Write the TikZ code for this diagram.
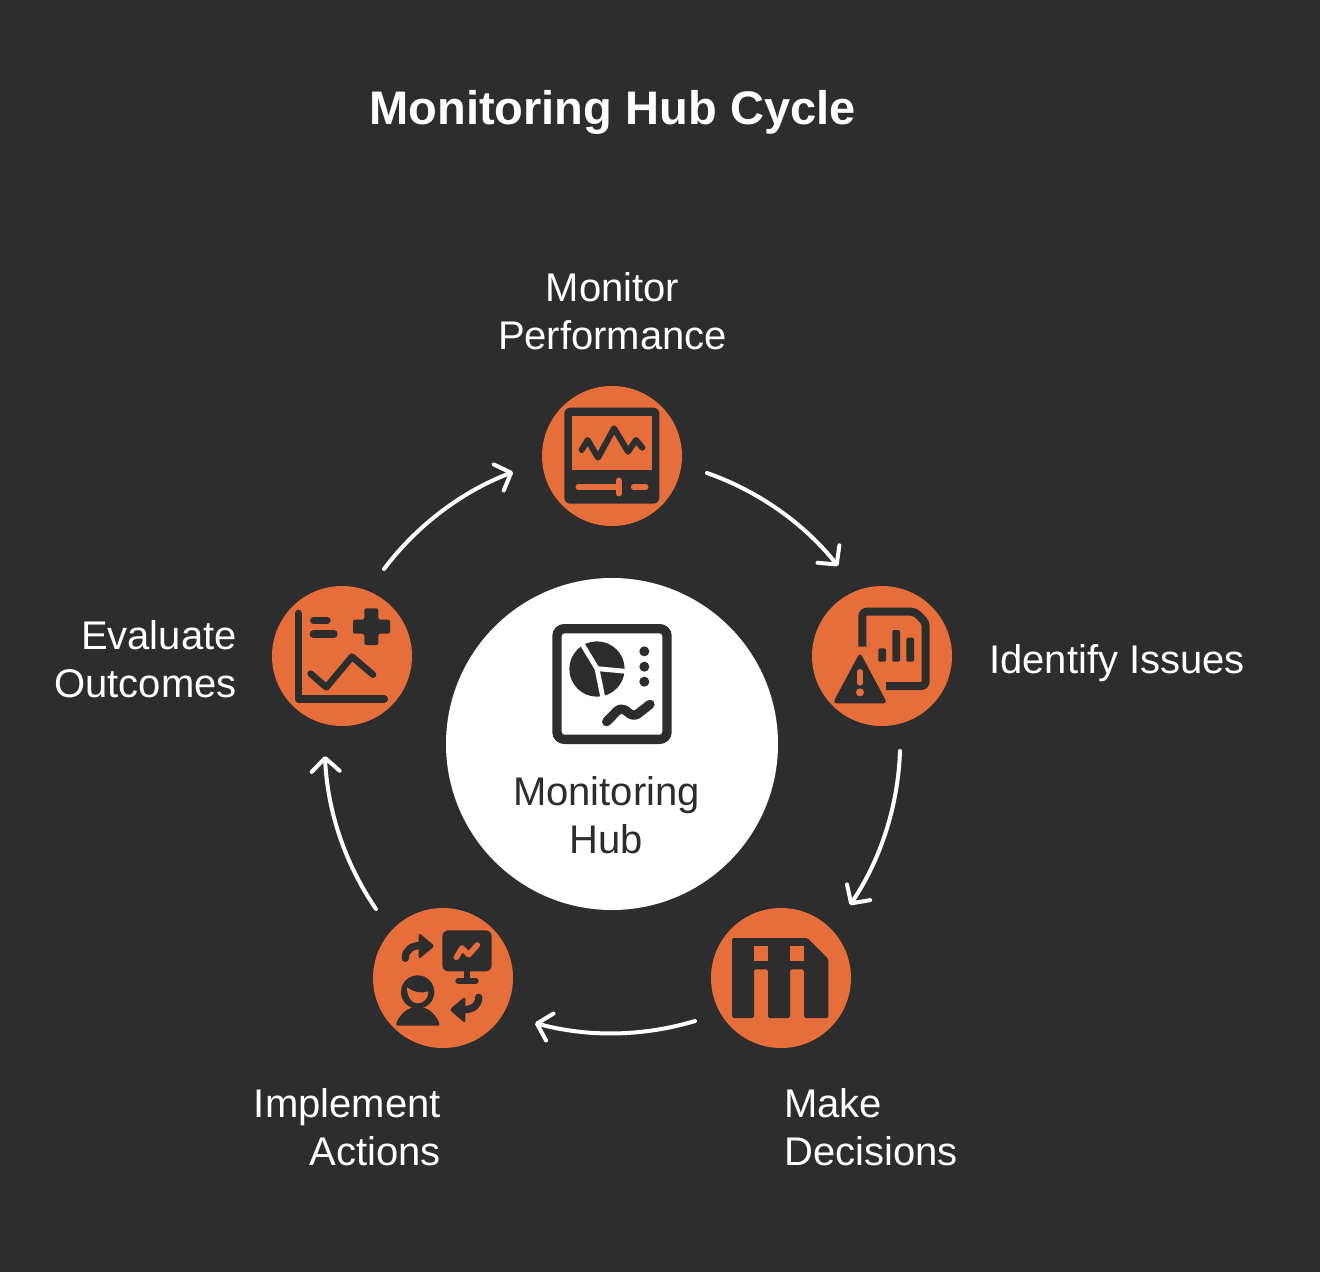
\documentclass[tikz,border=0pt]{standalone}
\usepackage{fontspec}
\setmainfont{Liberation Sans}
\usetikzlibrary{arrows.meta}
\definecolor{bgc}{HTML}{2D2D2D}
\definecolor{org}{HTML}{E66E3B}
\tikzset{
  disc/.style={circle,fill=org,minimum size=105pt,inner sep=0pt},
  hub/.style={circle,fill=white,minimum size=249pt,inner sep=0pt},
  lbl/.style={text=white,inner sep=0pt,font=\fontsize{30}{36}\selectfont},
  cyc/.style={draw=white,line width=3pt,line cap=round,bend left=16,looseness=.87,
     -{Straight Barb[length=10pt,width=21pt,line width=3pt,round]}},
  zm/.style={x=.25pt,y=-.25pt},
  ic/.style={line cap=round,line join=round,draw=bgc},
}
\begin{document}
\begin{tikzpicture}[x=.75pt,y=-.75pt]
\useasboundingbox (0,0) rectangle (1320,1272);
\fill[bgc] (0,0) rectangle (1320,1272);
\node[text=white,inner sep=0pt,font=\fontsize{35.3}{42}\bfseries\selectfont] (title) at (612.5,112) {Monitoring Hub Cycle};
\node[hub] (hubc) at (612,744) {};
\node[disc] (n1) at (612,456) {};
\node[disc] (n2) at (882,656) {};
\node[disc] (n3) at (781,978) {};
\node[disc] (n4) at (443,978) {};
\node[disc] (n5) at (342,656) {};
\node[lbl,align=center] (l1) at (612.5,311) {Monitor\\Performance};
\node[lbl,anchor=west] (l2) at (989,663) {Identify Issues};
\node[lbl,align=left,anchor=west] (l3) at (784,1127) {Make\\Decisions};
\node[lbl,align=right,anchor=east] (l4) at (441,1127) {Implement\\Actions};
\node[lbl,align=right,anchor=east] (l5) at (237,659) {Evaluate\\Outcomes};
\node[lbl,align=center,text=bgc] (l0) at (606.5,815) {Monitoring\\Hub};
\coordinate (a1s) at (707,473); \coordinate (a1e) at (838,566);
\coordinate (a2s) at (900,751); \coordinate (a2e) at (850,905);
\coordinate (a3s) at (695,1021); \coordinate (a3e) at (535,1023);
\coordinate (a4s) at (376,909); \coordinate (a4e) at (325,756);
\coordinate (a5s) at (384,569); \coordinate (a5e) at (513,472);
\draw[cyc] (a1s) to (a1e);
\draw[cyc] (a2s) to (a2e);
\draw[cyc] (a3s) to (a3e);
\draw[cyc] (a4s) to (a4e);
\draw[cyc] (a5s) to (a5e);
% monitor icon
\begin{scope}[shift={(530,375)},zm]
\fill[bgc,rounded corners=4.5pt] (103,98) rectangle (388,386);
\fill[org] (125,122) rectangle (366,285);
\draw[ic,line width=4.5pt] (155,225)--(173,195)--(204,248)--(252,160)--(294,230)--(318,195)--(337,218);
\draw[org,line width=4.2pt,line cap=round] (145,336)--(266,336);
\draw[org,line width=4.6pt,line cap=round] (266,317)--(266,355);
\draw[org,line width=4.2pt,line cap=round] (311,336)--(347,336);
\end{scope}
% issues icon
\begin{scope}[shift={(800,575)},zm]
\draw[bgc,line width=6pt,line join=round,rounded corners=3pt] (187,220)--(187,110)--(345,110)--(377,142)--(377,333)--(258,333);
\foreach \xa/\xb/\yt in {235/258/220,277/300/165,319/342/188}
  \fill[bgc,rounded corners=1pt] (\xa,\yt) rectangle (\xb,260);
\fill[org] (198,215) -- (175,215) -- (150,260) -- (198,260)--cycle;
\fill[bgc,rounded corners=3pt] (180,232)--(262,385)--(98,385)--cycle;
\draw[org,line width=4pt,line cap=round] (180,290)--(180,324);
\fill[org] (180,352) circle[radius=12];
\end{scope}
% decisions icon
\begin{scope}[shift={(700,898)},zm]
\fill[bgc,rounded corners=1.2pt] (96,120)--(322,120)--(385,183)--(385,360)--(312,360)--(312,214)--(270,214)--(270,360)--(204,360)--(204,214)--(162,214)--(162,360)--(96,360)--cycle;
\fill[org] (162,144) rectangle (204,190);
\fill[org] (270,144) rectangle (312,190);
\end{scope}
% implement icon
\begin{scope}[shift={(362,898)},zm]
\fill[bgc,rounded corners=4.5pt] (241,97) rectangle (389,220);
\draw[org,line width=4.2pt,line cap=round,line join=round] (283,178)--(300,150)--(320,170)--(346,141);
\fill[bgc] (307,215) rectangle (323,245);
\draw[ic,line width=5pt] (290,249)--(340,249);
\draw[ic,line width=5.5pt] (130,181) .. controls (130,155) and (150,142) .. (180,142);
\fill[bgc,rounded corners=2pt] (170,104)--(218,144)--(170,184)--cycle;
\draw[ic,line width=5.5pt] (350,298) .. controls (350,320) and (335,335) .. (305,335);
\fill[bgc,rounded corners=2pt] (310,295)--(262,335)--(310,376)--cycle;
\fill[bgc] (167,282) circle[radius=50];
\fill[org] (135,268) .. controls (155,283) and (180,287) .. (199,280) .. controls (199,303) and (183,316) .. (167,316) .. controls (148,316) and (135,295) .. (135,268) -- cycle;
\fill[bgc,rounded corners=2pt] (100,383) .. controls (115,345) and (140,328) .. (167,328) .. controls (195,328) and (220,345) .. (235,383) -- cycle;
\end{scope}
% evaluate icon
\begin{scope}[shift={(262,575)},zm]
\draw[ic,line width=5.5pt] (109,115)--(109,372)--(367,372);
\draw[ic,line width=5pt] (154,136)--(196,136);
\draw[ic,line width=5.5pt] (154,177)--(216,177);
\draw[ic,line width=5pt] (146,296)--(193,337)--(270,245)--(333,299);
\fill[bgc,rounded corners=1.5pt] (307,100)--(349,100)--(349,134)--(384,134)--(384,176)--(349,176)--(349,210)--(307,210)--(307,176)--(273,176)--(273,134)--(307,134)--cycle;
\end{scope}
% hub icon
\begin{scope}[shift={(535,610)},zm]
\draw[bgc,line width=7pt,rounded corners=5.5pt] (66,56) rectangle (396,388);
\fill[bgc] (186,177) circle[radius=83];
\draw[white,line width=3.6pt] (125,75)--(186,176);
\draw[white,line width=3.6pt] (186,176)--(285,185);
\draw[white,line width=3.6pt] (186,176)--(206,275);
\fill[bgc] (328,124) circle[radius=15];
\fill[bgc] (328,170) circle[radius=15];
\fill[bgc] (328,215) circle[radius=15];
\draw[ic,line width=7pt] (215,335)--(245,304) .. controls (252,297) and (262,295) .. (270,300)--(280,308) .. controls (288,315) and (298,318) .. (308,312)--(345,283);
\end{scope}
\end{tikzpicture}
\end{document}
